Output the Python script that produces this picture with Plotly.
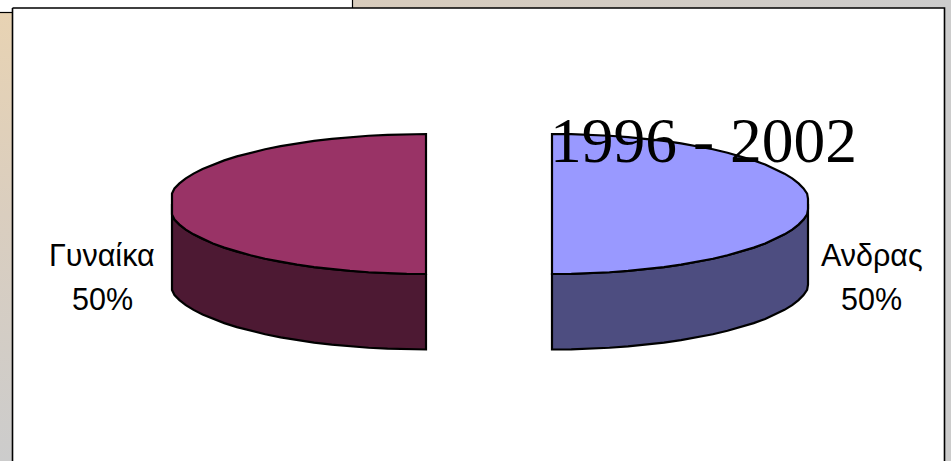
import numpy as np
import plotly.graph_objects as go

# ---- data ----
categories = ["Ανδρας", "Γυναίκα"]
values = [50, 50]
title_text = "1996 - 2002"

# ---- styling / geometry (pixel space of the screenshot) ----
W, H = 951, 461
face_colors = ["#9999FF", "#993366"]
wall_colors = ["#4D4D80", "#4D1933"]
pivot_x = [552, 426]
clip_r = [256, 254]
CY, RX, RY, DEPTH = 204, 258, 70, 75.5
LINE = dict(color="#000000", width=2.2)

total = sum(values)
fracs = [v / total for v in values]
starts = np.cumsum([0] + fracs[:-1]) * 2 * np.pi


def rim(px, clip, a0, a1, n=22):
    a = np.linspace(a0, a1, n)
    x = np.sin(a) * RX
    x = np.clip(x, -clip, clip) + px
    y = CY - np.cos(a) * RY
    return x, y


fig = go.Figure()


def poly(x, y, fill, line=None, **kw):
    fig.add_trace(go.Scatter(x=list(x), y=list(y), mode="lines", fill="toself",
                             fillcolor=fill, line=line or dict(width=0),
                             hoverinfo="skip", showlegend=False, **kw))


# page background behind the panel
poly([0, 12.5, 12.5, 0, 0], [12, 12, H, H, 12], "#CCCCCC",
     fillgradient=dict(type="vertical",
                       colorscale=[[0, "#CCCCCC"], [0.55, "#DACEBF"], [1, "#E8D3B3"]]))
poly([352, W, W, 352, 352], [0, 0, 8, 8, 0], "#D8CCBC",
     fillgradient=dict(type="horizontal",
                       colorscale=[[0, "#D8CCBC"], [1, "#CCCCCC"]]))
poly([0, 352, 352, 0, 0], [0, 0, 12, 12, 0], "#FFFFFF")
fig.add_trace(go.Scatter(x=[0, 12.5], y=[12.5, 12.5], mode="lines", line=dict(color="#000", width=1.2),
                         hoverinfo="skip", showlegend=False))
fig.add_trace(go.Scatter(x=[352.5, 352.5], y=[0, 8], mode="lines", line=dict(color="#000", width=1.2),
                         hoverinfo="skip", showlegend=False))
poly([12.5, 944.5, 944.5, 12.5, 12.5], [8, 8, H + 5, H + 5, 8], "#FFFFFF",
     line=dict(color="#000000", width=1.6))

# pie slices
for i, cat in enumerate(categories):
    a0 = starts[i]
    a1 = a0 + fracs[i] * 2 * np.pi
    px = pivot_x[i]
    # visible wall: part of the rim on the front half
    lo, hi = max(a0, np.pi / 2), min(a1, 3 * np.pi / 2)
    wx, wy = rim(px, clip_r[i], lo, hi)
    poly(np.r_[wx, wx[::-1], wx[0]], np.r_[wy, wy[::-1] + DEPTH, wy[0]], wall_colors[i], line=LINE)
    x, y = rim(px, clip_r[i], a0, a1, 43)
    poly(np.r_[px, x, px], np.r_[CY, y, CY], face_colors[i], line=LINE)

fig.update_xaxes(range=[0, W], visible=False, fixedrange=True)
fig.update_yaxes(range=[H, 0], visible=False, fixedrange=True)

label_x = [871.5, 102]
label_fonts = dict(family="Liberation Sans", size=30.5, color="#000000")
for i, cat in enumerate(categories):
    fig.add_annotation(x=label_x[i], y=255, text=cat, showarrow=False, font=label_fonts,
                       xanchor="center", yanchor="middle")
    fig.add_annotation(x=label_x[i], y=299, text=f"{round(fracs[i] * 100)}%", showarrow=False,
                       font=label_fonts, xanchor="center", yanchor="middle")
fig.add_annotation(x=703.5, y=140, text=title_text, showarrow=False,
                   font=dict(family="Liberation Serif", size=63.5, color="#000000"),
                   xanchor="center", yanchor="middle")

fig.update_layout(width=W, height=H, margin=dict(l=0, r=0, t=0, b=0),
                  paper_bgcolor="#CCCCCC", plot_bgcolor="#CCCCCC", showlegend=False)
fig.write_html("out.html", config=dict(displayModeBar=False),
               post_script="document.body.style.margin='0';document.body.style.overflow='hidden';")
